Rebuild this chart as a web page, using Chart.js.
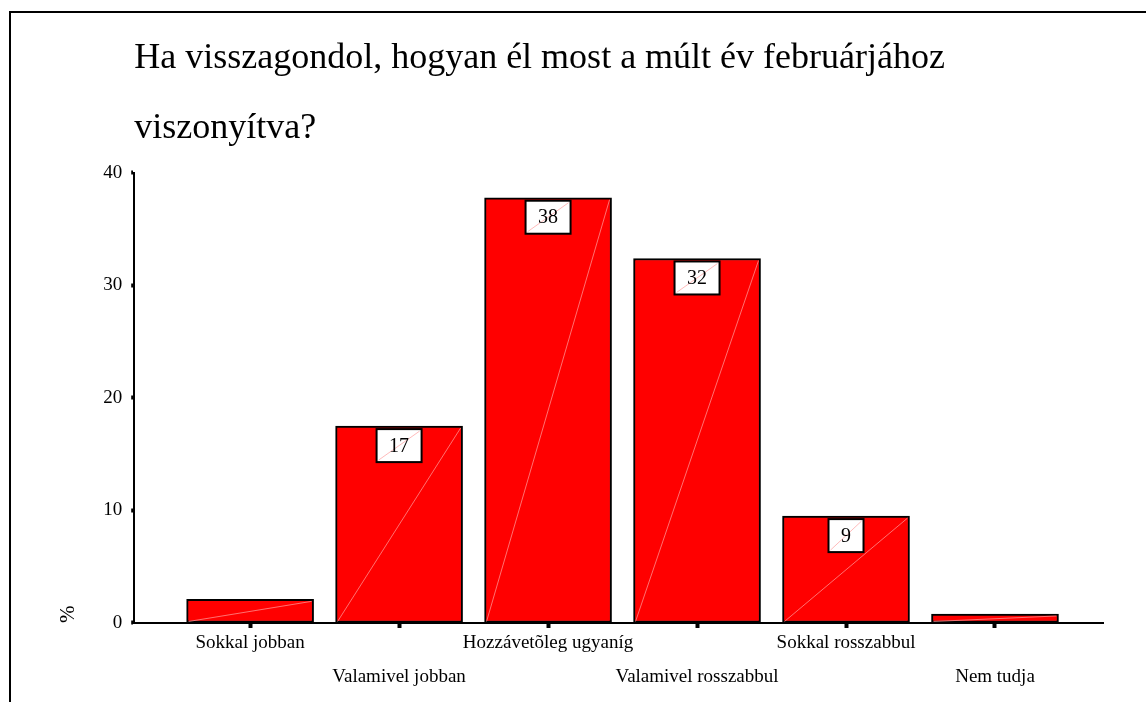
<!DOCTYPE html>
<html lang="hu">
<head>
<meta charset="UTF-8">
<title>Ha visszagondol, hogyan él most a múlt év februárjához viszonyítva?</title>
<script src="https://cdn.jsdelivr.net/npm/chart.js@4.4.1/dist/chart.umd.min.js"></script>
<style>
    * { margin: 0; padding: 0; box-sizing: border-box; }
    body { background: #fff; width: 1146px; height: 702px; overflow: hidden; position: relative; }
    /* the frame of the original only shows its top and left edges */
    .frame {
        position: absolute; left: 9px; top: 11px; width: 1300px; height: 900px;
        border-top: 2px solid #000; border-left: 2px solid #000;
    }
    .chart-box { position: absolute; left: 0; top: 0; width: 1146px; height: 702px; }
</style>
</head>
<body>
<div class="frame"></div>
<div class="chart-box"><canvas id="chart"></canvas></div>
<script>
    const titleLines = ['Ha visszagondol, hogyan él most a múlt év februárjához', 'viszonyítva?'];
    const categories = ['Sokkal jobban', 'Valamivel jobban', 'Hozzávetõleg ugyaníg', 'Valamivel rosszabbul', 'Sokkal rosszabbul', 'Nem tudja'];
    const percents = [2.1, 17.5, 37.8, 32.4, 9.5, 0.8];
    const valueLabels = ['', '17', '38', '32', '9', ''];
    const yTicks = [0, 10, 20, 30, 40];

    const serif = "'Liberation Serif', 'Times New Roman', serif";

    // white boxed value labels and the faint diagonal seen in each bar
    const barDecor = {
        id: 'barDecor',
        afterDatasetsDraw(chart) {
            const ctx = chart.ctx;
            chart.getDatasetMeta(0).data.forEach((bar, i) => {
                const p = bar.getProps(['x', 'y', 'base', 'width'], true);
                ctx.save();
                ctx.strokeStyle = 'rgba(255,160,160,0.7)';
                ctx.lineWidth = 1;
                ctx.beginPath();
                ctx.moveTo(p.x - p.width / 2 + 2, p.base - 1);
                ctx.lineTo(p.x + p.width / 2 - 2, p.y + 2);
                ctx.stroke();

                const text = valueLabels[i];
                if (text) {
                    ctx.font = '20px ' + serif;
                    const w = ctx.measureText(text).width + 25;
                    const h = 33;
                    const bx = p.x - w / 2, by = p.y + 3;
                    ctx.fillStyle = '#fff';
                    ctx.fillRect(bx, by, w, h);
                    ctx.strokeStyle = 'rgba(255,170,170,0.8)';
                    ctx.lineWidth = 1;
                    ctx.beginPath();
                    ctx.moveTo(bx + 2, by + h - 2);
                    ctx.lineTo(bx + w - 2, by + 2);
                    ctx.stroke();
                    ctx.strokeStyle = '#000';
                    ctx.lineWidth = 2;
                    ctx.strokeRect(bx, by, w, h);
                    ctx.fillStyle = '#000';
                    ctx.textAlign = 'center';
                    ctx.textBaseline = 'middle';
                    ctx.fillText(text, p.x, by + h / 2 + 1);
                }
                ctx.restore();
            });
        }
    };

    new Chart(document.getElementById('chart'), {
        type: 'bar',
        data: {
            datasets: [{
                data: percents.map((v, i) => ({ x: i, y: v })),
                backgroundColor: '#ff0000',
                borderColor: '#000',
                borderWidth: 2,
                borderSkipped: false,
                barThickness: 127
            }]
        },
        plugins: [barDecor],
        options: {
            responsive: true,
            maintainAspectRatio: false,
            animation: false,
            layout: { padding: { top: 0, left: 56, right: 43, bottom: 10 } },
            plugins: {
                legend: { display: false },
                tooltip: { enabled: false },
                title: {
                    display: true,
                    text: titleLines,
                    align: 'start',
                    fullSize: false,
                    color: '#000',
                    font: { family: serif, size: 36, weight: 'normal', lineHeight: 1.944 },
                    padding: { top: 24, bottom: 9 }
                }
            },
            scales: {
                x: {
                    type: 'linear',
                    min: -0.778,
                    max: 5.725,
                    offset: false,
                    afterBuildTicks: (scale) => {
                        scale.ticks = categories.map((c, i) => ({ value: i }));
                    },
                    border: { color: '#000', width: 2 },
                    grid: { offset: false, drawOnChartArea: false, drawTicks: true, tickLength: 5, tickWidth: 4, color: '#000' },
                    ticks: {
                        color: '#000',
                        padding: -2,
                        maxRotation: 0,
                        autoSkip: false,
                        font: { family: serif, size: 19, lineHeight: 1.79 },
                        callback: (value, index) => index % 2 ? ['', categories[index]] : categories[index]
                    }
                },
                y: {
                    min: 0,
                    max: 40,
                    afterBuildTicks: (scale) => {
                        scale.ticks = yTicks.map(v => ({ value: v }));
                    },
                    border: { color: '#000', width: 2 },
                    grid: { drawOnChartArea: false, drawTicks: true, tickLength: 3, tickWidth: 4, color: '#000' },
                    ticks: {
                        color: '#000',
                        padding: 9,
                        font: { family: serif, size: 19 }
                    },
                    title: {
                        display: true,
                        text: '%',
                        align: 'start',
                        color: '#000',
                        font: { family: serif, size: 21, lineHeight: 1.2 },
                        padding: { top: 0, bottom: 13 }
                    }
                }
            }
        }
    });
</script>
</body>
</html>
